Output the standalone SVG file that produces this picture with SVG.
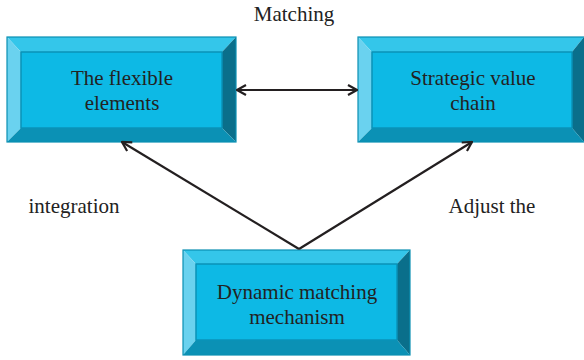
<svg xmlns="http://www.w3.org/2000/svg" width="584" height="360" viewBox="0 0 584 360">
  <defs>
    <style>
      .face { fill: #0db9e5; stroke: #0a93b8; stroke-width: 1.5; }
      .top { fill: #34c6ea; }
      .left { fill: #6ad2ef; }
      .right { fill: #0a6f8b; }
      .bottom { fill: #0b91b5; }
      .rim { fill: none; stroke: #0b8fb2; stroke-width: 1.2; }
      .lbl { font-family: "Liberation Serif", "DejaVu Serif", serif; font-size: 21px; fill: #222; text-anchor: middle; }
      .edge { stroke: #231f20; stroke-width: 2.2; fill: none; }
    </style>
    <marker id="head" viewBox="0 0 12 12" refX="11" refY="6" markerWidth="12" markerHeight="12" markerUnits="userSpaceOnUse" orient="auto-start-reverse">
      <path d="M2,1 L11,6 L2,11" fill="none" stroke="#231f20" stroke-width="2.2"/>
    </marker>
  </defs>

  <g id="node-flexible">
    <polygon class="top" points="7,37 236,37 222,52 21,52"/>
    <polygon class="left" points="7,37 21,52 21,128 7,142"/>
    <polygon class="right" points="236,37 236,142 222,128 222,52"/>
    <polygon class="bottom" points="7,142 21,128 222,128 236,142"/>
    <rect class="face" x="21" y="52" width="201" height="76"/>
    <rect class="rim" x="7" y="37" width="229" height="105"/>
    <text class="lbl" x="122" y="85">The flexible</text>
    <text class="lbl" x="122" y="110">elements</text>
  </g>

  <g id="node-strategic">
    <polygon class="top" points="358,37 584,37 572,52 372,52"/>
    <polygon class="left" points="358,37 372,52 372,128 358,142"/>
    <polygon class="right" points="584,37 584,142 572,128 572,52"/>
    <polygon class="bottom" points="358,142 372,128 572,128 584,142"/>
    <rect class="face" x="372" y="52" width="200" height="76"/>
    <rect class="rim" x="358" y="37" width="228" height="105"/>
    <text class="lbl" x="473" y="85">Strategic value</text>
    <text class="lbl" x="473" y="110">chain</text>
  </g>

  <g id="node-dynamic">
    <polygon class="top" points="183,250 410,250 397,264 196,264"/>
    <polygon class="left" points="183,250 196,264 196,340 183,355"/>
    <polygon class="right" points="410,250 410,355 397,340 397,264"/>
    <polygon class="bottom" points="183,355 196,340 397,340 410,355"/>
    <rect class="face" x="196" y="264" width="201" height="76"/>
    <rect class="rim" x="183" y="250" width="227" height="105"/>
    <text class="lbl" x="297" y="299">Dynamic matching</text>
    <text class="lbl" x="297" y="324">mechanism</text>
  </g>

  <g id="connectors">
    <line class="edge" x1="237" y1="90" x2="357" y2="90" marker-start="url(#head)" marker-end="url(#head)"/>
    <line class="edge" x1="299" y1="249" x2="122" y2="142" marker-end="url(#head)"/>
    <line class="edge" x1="299" y1="249" x2="472" y2="142" marker-end="url(#head)"/>
  </g>

  <g id="labels">
    <text class="lbl" x="294" y="21">Matching</text>
    <text class="lbl" x="74" y="213">integration</text>
    <text class="lbl" x="492" y="213">Adjust the</text>
  </g>
</svg>
